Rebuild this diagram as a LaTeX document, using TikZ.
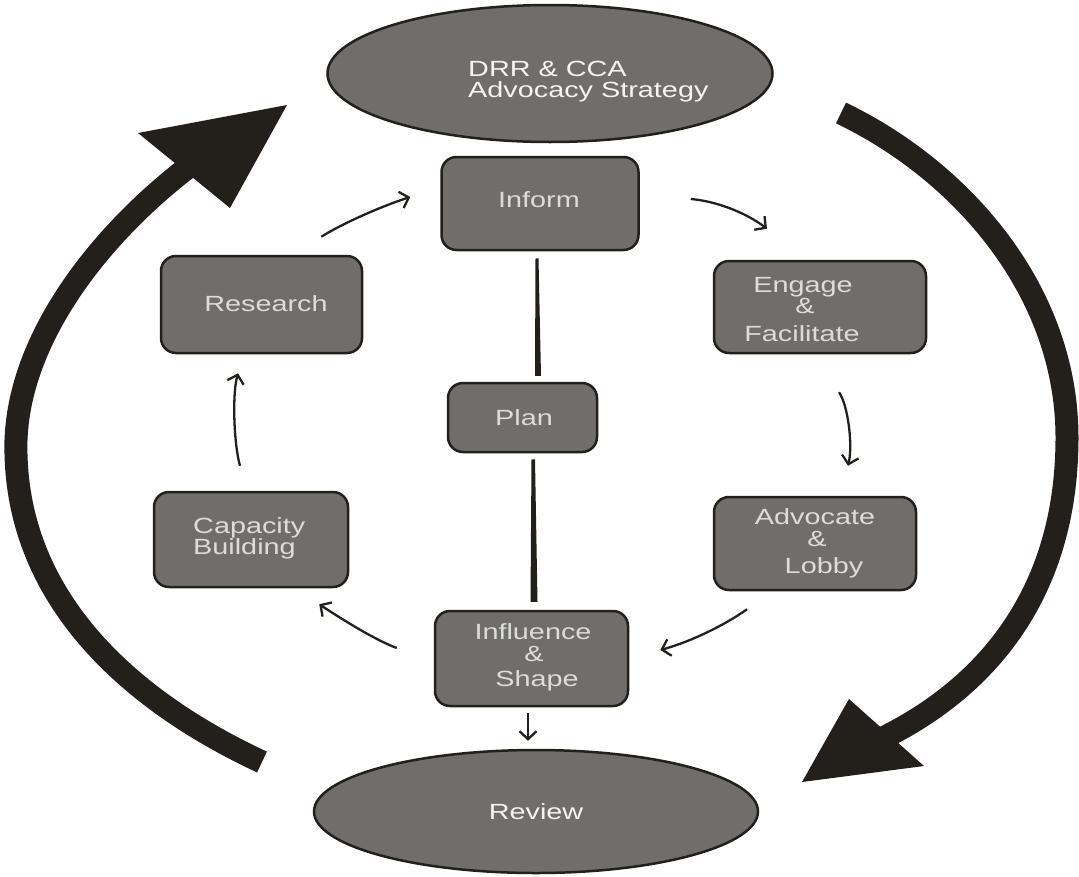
\documentclass[tikz,border=0pt]{standalone}
\usepackage{fontspec}
\newfontfamily\labfont[FakeStretch=1.31]{Liberation Sans}
\usetikzlibrary{shapes.geometric,arrows.meta}
\definecolor{boxfill}{RGB}{111,110,108}
\definecolor{ink}{RGB}{35,32,28}
\definecolor{boxtext}{RGB}{220,220,220}
\definecolor{ovaltext}{RGB}{244,244,244}

\begin{document}
\begin{tikzpicture}[x=1pt,y=-1pt,
  stage/.style={draw=ink, line width=2.5pt, fill=boxfill, rounded corners=15pt, inner sep=0pt},
  oval/.style={ellipse, draw=ink, line width=2.5pt, fill=boxfill, inner sep=0pt},
  lbl/.style={font=\labfont\fontsize{22}{23}\selectfont, text=boxtext, inner sep=0pt, anchor=base},
  ovallbl/.style={lbl, text=ovaltext},
  flow/.style={draw=ink, line width=2.3pt, -{Straight Barb[length=8pt,width=17pt,line width=2.3pt]}},
  band/.style={draw=ink, line width=23pt, line cap=butt},
]
\useasboundingbox (0,0) rectangle (1079,876);

% outer cycle: two heavy curved arrows
\draw[band] (262,762) .. controls (150,710) and (12,610) .. (16,440)
            .. controls (20,330) and (110,225) .. (195,162);
\fill[ink] (138,133) -- (287,105) -- (230,208) -- cycle;

\draw[band] (841,113) .. controls (960,170) and (1068,290) .. (1067,440)
            .. controls (1066,600) and (980,690) .. (883,738);
\fill[ink] (849,699) -- (924,766) -- (802,782) -- cycle;

% ovals
\node[oval, minimum width=445pt, minimum height=137pt] (strategy) at (550,73.5) {};
\node[oval, minimum width=444pt, minimum height=123pt] (review) at (536,811.5) {};

% stage boxes
\node[stage, minimum width=197pt, minimum height=93pt] (inform)    at (540,203.5) {};
\node[stage, minimum width=212pt, minimum height=92pt] (engage)    at (820,307) {};
\node[stage, minimum width=202pt, minimum height=93pt] (advocate)  at (815,543.5) {};
\node[stage, minimum width=193pt, minimum height=95pt] (influence) at (531.5,658.5) {};
\node[stage, minimum width=194pt, minimum height=95pt] (capacity)  at (251,539.5) {};
\node[stage, minimum width=201pt, minimum height=97pt] (research)  at (261.5,304.5) {};
\node[stage, minimum width=149pt, minimum height=69pt] (plan)      at (522.5,417.5) {};

% labels
\node[ovallbl, anchor=base west] (strategy-a) at (468,76) {DRR \& CCA};
\node[ovallbl, anchor=base west] (strategy-b) at (468,97) {Advocacy Strategy};
\node[ovallbl] (review-a) at (536,819) {Review};

\node[lbl] (inform-a) at (539,207) {Inform};
\node[lbl] (engage-a) at (803,292) {Engage};
\node[lbl] (engage-b) at (805,313) {\&};
\node[lbl] (engage-c) at (802,341) {Facilitate};
\node[lbl] (advocate-a) at (815,524) {Advocate};
\node[lbl] (advocate-b) at (817,546) {\&};
\node[lbl] (advocate-c) at (824,573) {Lobby};
\node[lbl] (influence-a) at (533,639) {Influence};
\node[lbl] (influence-b) at (534,661) {\&};
\node[lbl] (influence-c) at (537,686) {Shape};
\node[lbl, anchor=base west] (capacity-a) at (193,533) {Capacity};
\node[lbl, anchor=base west] (capacity-b) at (193,554) {Building};
\node[lbl] (research-a) at (266,311) {Research};
\node[lbl] (plan-a) at (524,425) {Plan};

% spine through Plan (tapered bars)
\fill[ink] ([shift={(-4.5,7)}]inform.south) -- ([shift={(-1.5,7)}]inform.south)
        -- ([shift={(18.5,-6)}]plan.north) -- ([shift={(12.5,-6)}]plan.north) -- cycle;
\fill[ink] ([shift={(9,6)}]plan.south) -- ([shift={(12.5,6)}]plan.south)
        -- ([shift={(6,-8)}]influence.north) -- ([shift={(-1,-8)}]influence.north) -- cycle;

% inner cycle of thin arrows
\draw[flow] ([shift={(-42,-18)}]research.north east) .. controls (345,222) and (385,205) .. ([shift={(-30,-6.5)}]inform.west);
\draw[flow] ([shift={(51,-4.5)}]inform.east) .. controls (715,201) and (745,212) .. ([shift={(-53,-31)}]engage.north);
\draw[flow] ([shift={(19,38)}]engage.south) .. controls (848,405) and (853,445) .. ([shift={(33,-30)}]advocate.north);
\draw[flow] ([shift={(-68,18)}]advocate.south) .. controls (725,625) and (690,642) .. ([shift={(31,-8.5)}]influence.east);
\draw[flow] ([shift={(-37,-10.5)}]influence.west) .. controls (375,640) and (340,618) .. ([shift={(-30,16)}]capacity.south east);
\draw[flow] ([shift={(-11,-25)}]capacity.north) .. controls (234,445) and (232,395) .. ([shift={(-23.5,19)}]research.south);
\draw[flow] ([shift={(-3.5,6)}]influence.south) -- ([shift={(-8,-8)}]review.north);

\end{tikzpicture}
\end{document}
